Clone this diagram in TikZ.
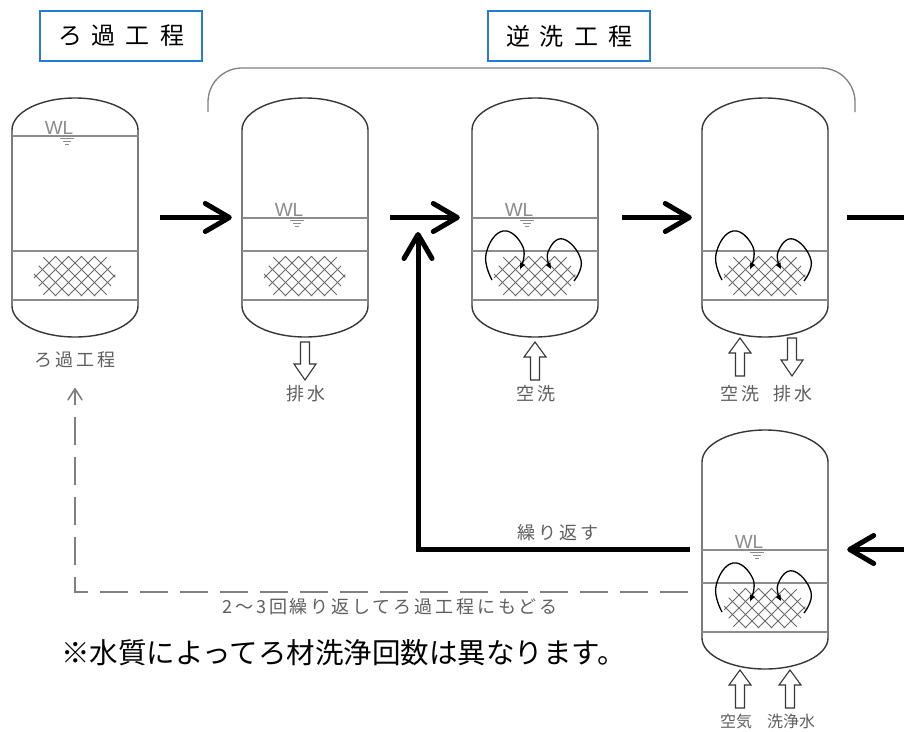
\documentclass[tikz,border=0pt]{standalone}
\usepackage{fontspec}
\usetikzlibrary{arrows.meta}
\newfontfamily\jp{Noto Sans CJK JP}
\newfontfamily\jplab[LetterSpace=16]{Noto Sans CJK JP}
\newfontfamily\wlfont{Liberation Sans}
\definecolor{boxblue}{RGB}{38,124,206}
\definecolor{tankgray}{RGB}{55,55,55}
\definecolor{lightline}{RGB}{140,140,140}
\definecolor{labelgray}{RGB}{95,95,95}
\definecolor{meshgray}{RGB}{105,105,105}

% vessel body (origin = top of the upper dome, centre line)
\newcommand\tank[1]{%
  \node[tankbox] (#1) at (0,119.5) {};
  \draw[tankline] (-63,32) arc[start angle=180,end angle=360,x radius=63,y radius=32]
    -- (63,208) arc[start angle=0,end angle=180,x radius=63,y radius=31] -- cycle;
  \draw[innerline] (-63,153) -- (63,153) (-63,202) -- (63,202);
}
% water level line with its mark
\newcommand\wlmark[1]{%
  \draw[innerline] (-63,#1) -- (63,#1);
  \node[wltext] at (-16,#1-2) {WL};
  \draw[innerline,line width=0.8pt] (-15,#1+2) -- (-1,#1+2) (-12,#1+5) -- (-4,#1+5) (-10,#1+8) -- (-6,#1+8);
}
% circulating air loops inside the bed
\newcommand\airloops{%
  \draw[loopline] plot[smooth,tension=0.8] coordinates {(-43,182) (-49,156) (-32,133) (-12,149) (-15,171)};
  \draw[loopline] plot[smooth,tension=0.8] coordinates {(39,183) (46,162) (28,141) (13,154) (16,171)};
}
% filter media lattice
\newcommand\filtermesh{%
  \begin{scope}
    \clip (-42,178) -- (-31,158) -- (31,158) -- (41,178) -- (31,198) -- (-31,198) -- cycle;
    \foreach \k in {-6,...,6} {
      \draw[meshline] (\k*13-21,157) -- ++(42,42);
      \draw[meshline] (\k*13+21,157) -- ++(-42,42);
    }
  \end{scope}
}
% hollow block arrows
\newcommand\blockup[2]{%
  \draw[blockarrow] (#1-4.5,#2+38) -- (#1+4.5,#2+38) -- (#1+4.5,#2+15) -- (#1+11,#2+15)
    -- (#1,#2) -- (#1-11,#2+15) -- (#1-4.5,#2+15) -- cycle;
}
\newcommand\blockdown[2]{%
  \draw[blockarrow] (#1-4.5,#2) -- (#1+4.5,#2) -- (#1+4.5,#2+22) -- (#1+11,#2+22)
    -- (#1,#2+38) -- (#1-11,#2+22) -- (#1-4.5,#2+22) -- cycle;
}

\begin{document}
\begin{tikzpicture}[x=1pt,y=-1pt,
  tankbox/.style={inner sep=0pt,minimum width=126pt,minimum height=239pt},
  tankline/.style={draw=tankgray,line width=1.4pt},
  innerline/.style={draw=lightline,line width=1.1pt},
  wltext/.style={anchor=base,inner sep=0pt,text=lightline,font=\wlfont\fontsize{19}{19}\selectfont},
  loopline/.style={draw=black,line width=1.3pt,-{Triangle[length=6pt,width=5pt]}},
  meshline/.style={draw=meshgray,line width=0.8pt},
  blockarrow/.style={draw=tankgray,line width=1.1pt,fill=white,line join=miter},
  steplabel/.style={inner sep=0pt,text=labelgray,font=\jplab\fontsize{18}{18}\selectfont},
  smalllabel/.style={inner sep=0pt,text=labelgray,font=\jp\fontsize{16}{16}\selectfont},
  titlebox/.style={draw=boxblue,line width=1.6pt,fill=white,minimum width=162pt,minimum height=50pt,
    inner sep=0pt,font=\jp\fontsize{24}{24}\selectfont},
  bigarrow/.style={line width=5pt,-{Straight Barb[round,length=24pt,width=28pt,line width=5pt]}},
  bigline/.style={line width=5pt},
  dashline/.style={draw=gray,line width=1.6pt,dash pattern=on 28pt off 12pt,
    -{Straight Barb[round,length=11pt,width=14pt,line width=1.6pt]}},
  bracketline/.style={draw=gray,line width=1.3pt},
]
\fill[white] (0,0) rectangle (904,731);
\useasboundingbox (0,0) rectangle (904,731);

% vessel 1: filtration
\begin{scope}[shift={(75,98)}]
  \tank{v1}
  \wlmark{38}
  \filtermesh
\end{scope}
% vessel 2: draining
\begin{scope}[shift={(305,98)}]
  \tank{v2}
  \wlmark{120}
  \filtermesh
\end{scope}
% vessel 3: air scour
\begin{scope}[shift={(535,98)}]
  \tank{v3}
  \wlmark{120}
  \filtermesh
  \airloops
\end{scope}
% vessel 4: air scour and drain
\begin{scope}[shift={(765,98)}]
  \tank{v4}
  \filtermesh
  \airloops
\end{scope}
% vessel 5: air and wash water
\begin{scope}[shift={(765,430)}]
  \tank{v5}
  \wlmark{120}
  \filtermesh
  \airloops
\end{scope}

% backwash bracket
\draw[bracketline] (208,112) -- (208,102) arc[start angle=180,end angle=270,radius=34]
  -- (821,68) arc[start angle=270,end angle=360,radius=34] -- (855,112);

% title boxes
\node[titlebox] (t1) at (121,36) {ろ\kern10pt 過\kern10pt 工\kern10pt 程};
\node[titlebox] (t2) at (569,36) {逆\kern10pt 洗\kern10pt 工\kern10pt 程};

% utility arrows
\blockdown{305}{342}
\blockup{535}{342}
\blockup{740}{338}
\blockdown{792}{338}
\blockup{740}{670}
\blockup{790}{670}

% labels under the vessels
\node[steplabel] (l1) at (75,360) {ろ過工程};
\node[steplabel] (l2) at (306,394) {排水};
\node[steplabel] (l3) at (536,394) {空洗};
\node[steplabel] (l4a) at (740,394) {空洗};
\node[steplabel] (l4b) at (793,394) {排水};
\node[smalllabel] (l5a) at (736,721) {空気};
\node[smalllabel] (l5b) at (791,721) {洗浄水};

% main process arrows
\draw[bigarrow,shorten <=22pt,shorten >=10pt] (v1.east) -- (v2.west);
\draw[bigarrow,shorten <=22pt,shorten >=12pt] (v2.east) -- (v3.west);
\draw[bigarrow,shorten <=24pt,shorten >=10pt] (v3.east) -- (v4.west);
\coordinate (rout) at (904,217.5);
\draw[bigline,shorten <=19pt] (v4.east) -- (rout);
\coordinate (rin) at (904,549.5);
\draw[bigarrow,shorten >=19pt] (rin) -- (v5.east);

% repeat loop
\coordinate (rtip) at (418,232);
\draw[bigarrow,shorten <=12pt] (v5.west) -| (rtip);
\node[steplabel] (rep) at (558,533) {繰り返す};

% return to filtration
\coordinate (dstart) at (688,592);
\coordinate (dtip) at (75,388);
\draw[dashline] (dstart) -| (dtip);
\node[steplabel] (retlabel) at (390,607) {2～3回繰り返してろ過工程にもどる};

% note
\node[anchor=west,inner sep=0pt,font=\jp\fontsize{28.5}{30}\selectfont] (note) at (61,653) {※水質によってろ材洗浄回数は異なります。};
\end{tikzpicture}
\end{document}
